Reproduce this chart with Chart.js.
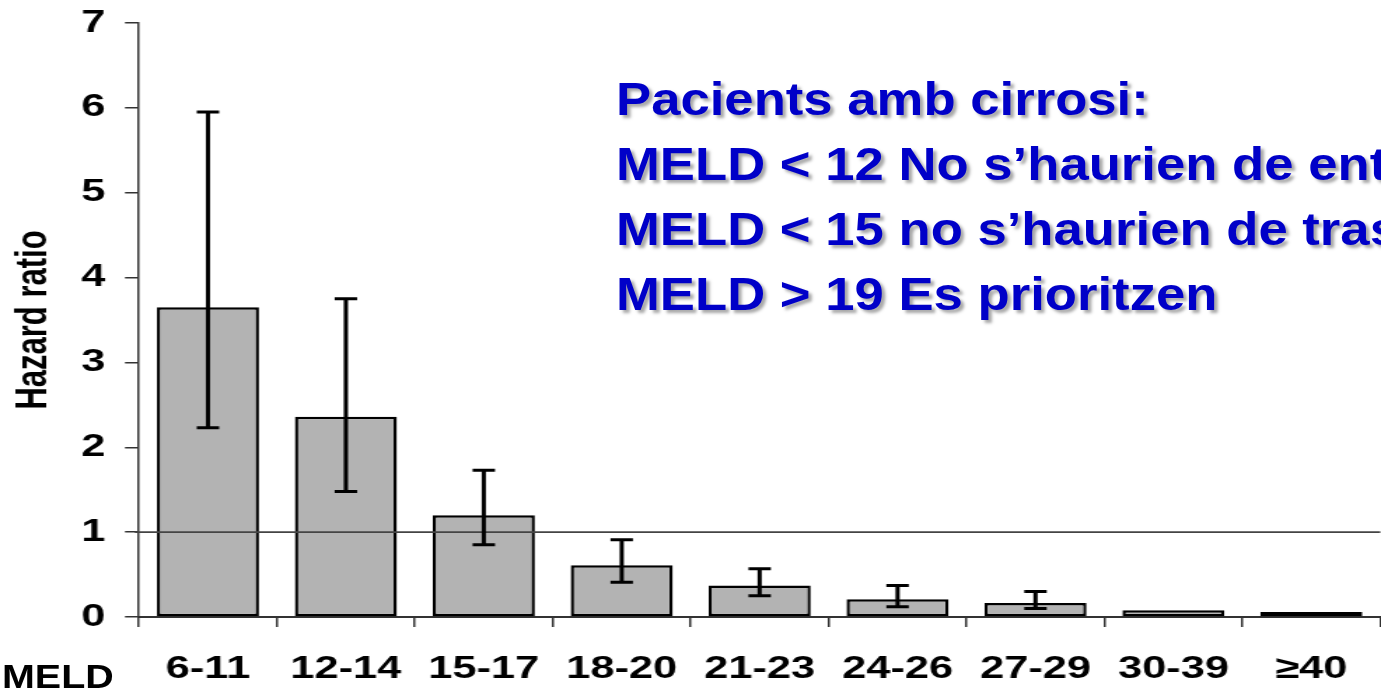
<!DOCTYPE html>
<html>
<head>
<meta charset="utf-8">
<script src="https://cdn.jsdelivr.net/npm/chart.js@4.4.1/dist/chart.umd.min.js"></script>
<style>
  html, body { margin: 0; padding: 0; background: #fff; }
  #wrap { position: relative; width: 1381px; height: 688px; overflow: hidden; }
  .note {
    position: absolute; left: 616px; top: 67px;
    font: bold 46px 'Liberation Sans', Arial, sans-serif; line-height: 65px;
    color: #0000c8; white-space: nowrap;
    transform: scaleX(1.145); transform-origin: 0 0;
    text-shadow: 3px 3px 3px rgba(0, 0, 0, 0.35);
  }
  .meld {
    position: absolute; left: 2px; top: 659px;
    font: bold 34px 'Liberation Sans', Arial, sans-serif; line-height: 34px;
    color: #000; white-space: nowrap;
    transform: scaleX(1.16); transform-origin: 0 0;
  }
</style>
</head>
<body>
<div id="wrap">
  <!-- the original slide picture is stretched sideways, so the canvas is too -->
  <canvas id="hr-chart" width="986" height="688" style="position:absolute;left:0;top:0;width:1381px;height:688px;"></canvas>
  <div class="note">Pacients amb cirrosi:<br>MELD &lt; 12 No s’haurien de entrar en llista<br>MELD &lt; 15 no s’haurien de trasplantar<br>MELD &gt; 19 Es prioritzen</div>
  <div class="meld">MELD</div>
</div>
<script>
const meldGroups = ['6-11', '12-14', '15-17', '18-20', '21-23', '24-26', '27-29', '30-39', '≥40'];
const hazardRatio = [3.65, 2.36, 1.20, 0.61, 0.37, 0.21, 0.165, 0.08, 0.06];
const ciLower = [2.23, 1.48, 0.85, 0.41, 0.25, 0.12, 0.10, null, null];
const ciUpper = [5.95, 3.75, 1.73, 0.91, 0.57, 0.37, 0.30, null, null];
const yMin = 0;
const yMax = 7;
const refValue = 1;

const FONT = "'Liberation Sans', Arial, sans-serif";

// reference line at HR = 1 and the confidence interval whiskers
const errorBars = {
  id: 'errorBars',
  afterDatasetsDraw(chart) {
    const { ctx, chartArea, scales: { x, y } } = chart;
    ctx.save();
    const yr = y.getPixelForValue(refValue);
    ctx.strokeStyle = '#444';
    ctx.lineWidth = 1.8;
    ctx.beginPath();
    ctx.moveTo(chartArea.left - 3, yr);
    ctx.lineTo(chartArea.right, yr);
    ctx.stroke();

    ctx.strokeStyle = '#000';
    ctx.lineWidth = 3;
    ciLower.forEach((lo, i) => {
      const hi = ciUpper[i];
      if (lo == null || hi == null) return;
      const px = x.getPixelForValue(i);
      const yLo = y.getPixelForValue(lo);
      const yHi = y.getPixelForValue(hi);
      ctx.beginPath();
      ctx.moveTo(px, yLo); ctx.lineTo(px, yHi);
      ctx.moveTo(px - 8, yLo); ctx.lineTo(px + 8, yLo);
      ctx.moveTo(px - 8, yHi); ctx.lineTo(px + 8, yHi);
      ctx.stroke();
    });
    ctx.restore();
  }
};

new Chart(document.getElementById('hr-chart'), {
  type: 'bar',
  data: {
    labels: meldGroups,
    datasets: [{
      data: hazardRatio,
      backgroundColor: '#b3b3b3',
      borderColor: '#000',
      borderWidth: { top: 2.5, bottom: 2.5, left: 2.4, right: 2.4 },
      borderSkipped: false,
      barPercentage: 0.74,
      categoryPercentage: 1
    }]
  },
  options: {
    responsive: false,
    devicePixelRatio: 1,
    animation: false,
    layout: { padding: { top: 23, left: 0, right: 0, bottom: 0 } },
    plugins: {
      legend: { display: false },
      tooltip: { enabled: false }
    },
    scales: {
      x: {
        offset: true,
        grid: { offset: true, drawOnChartArea: false, tickLength: 10, color: '#333', lineWidth: 1.5 },
        border: { color: '#333', width: 2 },
        ticks: { color: '#000', padding: 24, font: { family: FONT, size: 31, weight: 'bold' } },
        afterFit: (scale) => { scale.height = 71; }
      },
      y: {
        min: yMin,
        max: yMax,
        grid: { drawOnChartArea: false, tickLength: 10, color: '#333', lineWidth: 1.5 },
        border: { color: '#333', width: 1.5 },
        ticks: { stepSize: 1, color: '#000', padding: 14, font: { family: FONT, size: 31, weight: 'bold' } },
        title: {
          display: true,
          text: 'Hazard ratio',
          color: '#000',
          padding: { top: 6, bottom: 0 },
          font: { family: FONT, size: 31, weight: 'bold' }
        },
        afterFit: (scale) => {
          scale.width = 99.24;
          scale.paddingTop = 0; // let the layout padding set the top
        }
      }
    }
  },
  plugins: [errorBars]
});
</script>
</body>
</html>
